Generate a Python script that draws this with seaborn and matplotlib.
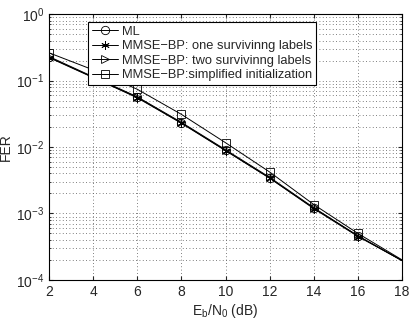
import numpy as np
import pandas as pd
import matplotlib
matplotlib.use('Agg')
import matplotlib.pyplot as plt
import seaborn as sns

# SNR points (dB)
snr = [2, 4, 6, 8, 10, 12, 14, 16, 18]

# FER values
fer_ml = [0.225, 0.112, 0.056, 0.0230, 0.0089, 0.0034, 0.00120, 0.00046, 0.000195]
fer_one = [0.222, 0.111, 0.055, 0.0228, 0.0088, 0.0034, 0.00118, 0.00045, 0.000195]
fer_two = [0.230, 0.114, 0.057, 0.0235, 0.0091, 0.0035, 0.00122, 0.00046, 0.000195]
fer_simp = [0.262, 0.145, 0.074, 0.0310, 0.0116, 0.0042, 0.00136, 0.00050, 0.000200]

labels = ['ML',
          'MMSE\u2212BP: one survivinng labels',
          'MMSE\u2212BP: two survivinng labels',
          'MMSE\u2212BP:simplified initialization']
markers = ['o', (6, 2, 0), '>', 's']

sns.set_style('ticks')
plt.rcParams['font.family'] = ['Liberation Sans', 'DejaVu Sans']
plt.rcParams['mathtext.fontset'] = 'custom'
plt.rcParams['mathtext.rm'] = 'Liberation Sans'
plt.rcParams['mathtext.it'] = 'Liberation Sans'
plt.rcParams['mathtext.default'] = 'regular'

fig = plt.figure(figsize=(4.15, 3.21), dpi=100)
ax = fig.add_axes([0.118, 0.128, 0.851, 0.828])

series = [fer_ml, fer_one, fer_two, fer_simp]
for vals, lab, mk in zip(series, labels, markers):
    df = pd.DataFrame({'snr': snr, 'fer': vals})
    sns.lineplot(data=df, x='snr', y='fer', ax=ax, color='black', linewidth=0.7,
                 marker=mk, markersize=6,
                 markerfacecolor='none', markeredgecolor='black', markeredgewidth=0.6,
                 markevery=list(range(len(snr) - 1)), label=lab)

ax.set_yscale('log')
ax.set_xlim(2, 18)
ax.set_ylim(1e-4, 1)
ax.set_xticks(range(2, 19, 2))
grid_kw = dict(linestyle=(0, (1, 3)), color='#555555', linewidth=0.6)
ax.grid(True, which='major', **grid_kw)
ax.grid(True, which='minor', axis='y', **grid_kw)
ax.tick_params(direction='in', which='both', top=True, right=True, labelsize=10, length=3)
ax.tick_params(which='minor', length=1.5)
for s in ax.spines.values():
    s.set_linewidth(0.8)
    s.set_color('black')

ax.set_xlabel(r'E$_\mathrm{b}$/N$_0$ (dB)', fontsize=10, labelpad=2)
ax.set_ylabel('FER', fontsize=10, labelpad=2)

leg = ax.legend(loc='upper left', bbox_to_anchor=(0.11, 0.97), fontsize=9.3,
                frameon=True, fancybox=False, edgecolor='black', framealpha=1,
                handlelength=2.0, borderpad=0.3, labelspacing=0.18,
                handletextpad=0.35, borderaxespad=0)
leg.get_frame().set_linewidth(0.8)

fig.savefig('out.png', dpi=100)
